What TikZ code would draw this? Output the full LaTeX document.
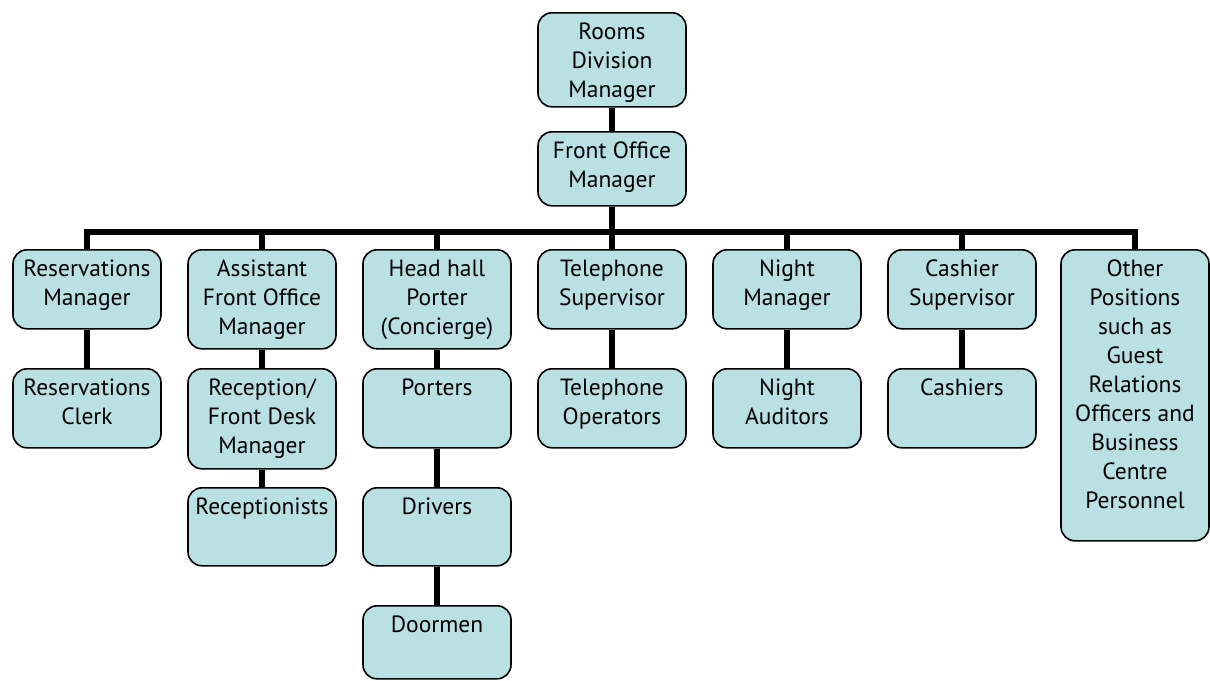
\documentclass[tikz,border=0pt]{standalone}
\usepackage{fontspec}
\setmainfont{PT Sans}
\usetikzlibrary{backgrounds}
\definecolor{boxfill}{HTML}{B9E0E3}
\tikzset{
  box/.style={draw=black, line width=1.6pt, fill=boxfill, rounded corners=14pt,
    inner sep=0pt, anchor=north, font=\fontsize{23.5}{29}\selectfont},
  conn/.style={draw=black, line width=6pt}
}
% \bx{name}{centre x}{top y}{height}{text}
\newcommand\bx[5]{%
  \node[box] (#1) at (#2,#3)
    {\parbox[c][#4pt][t]{148pt}{\centering\rule{0pt}{27pt}#5}};}
\begin{document}
\begin{tikzpicture}[x=1pt,y=-1pt]
\useasboundingbox (0,0) rectangle (1210,680);

% --- boxes ---
\bx{rdm}{612}{12}{94}{Rooms\\Division\\Manager}
\bx{fom}{612}{131}{74}{Front Office\\Manager}

\bx{resm}{87}{249}{79}{Reservations\\Manager}
\bx{afom}{262}{249}{99}{Assistant\\Front Office\\Manager}
\bx{hhp}{437}{249}{99}{Head hall\\Porter\\(Concierge)}
\bx{tels}{612}{249}{79}{Telephone\\Supervisor}
\bx{nm}{787}{249}{79}{Night\\Manager}
\bx{cs}{962}{249}{79}{Cashier\\Supervisor}
\bx{oth}{1135}{249}{291}{Other\\Positions\\such as\\Guest\\Relations\\Officers and\\Business\\Centre\\Personnel}

\bx{resc}{87}{368}{79}{Reservations\\Clerk}
\bx{rfd}{262}{368}{100}{Reception/\\Front Desk\\Manager}
\bx{rec}{262}{487}{78}{Receptionists}
\bx{por}{437}{368}{79}{Porters}
\bx{drv}{437}{487}{78}{Drivers}
\bx{door}{437}{605}{73}{Doormen}
\bx{telo}{612}{368}{79}{Telephone\\Operators}
\bx{na}{787}{368}{79}{Night\\Auditors}
\bx{cash}{962}{368}{79}{Cashiers}

% height of the horizontal distribution bar
\coordinate (bar) at (612,232);

% --- connectors, behind the boxes ---
\begin{pgfonlayer}{background}
\begin{scope}[conn]
  \draw[line cap=rect] (resm.north |- bar) -- (oth.north |- bar);
  \foreach \n in {resm,afom,hhp,nm,cs,oth}
    \draw (\n.north) -- (\n.north |- bar);
  \draw (rdm.south) -- (fom.north);
  \draw (fom.south) -- (tels.north);
  \draw (resm.south) -- (resc.north);
  \draw (afom.south) -- (rfd.north);
  \draw (rfd.south) -- (rec.north);
  \draw (hhp.south) -- (por.north);
  \draw (por.south) -- (drv.north);
  \draw (drv.south) -- (door.north);
  \draw (tels.south) -- (telo.north);
  \draw (nm.south) -- (na.north);
  \draw (cs.south) -- (cash.north);
\end{scope}
\end{pgfonlayer}
\end{tikzpicture}
\end{document}
